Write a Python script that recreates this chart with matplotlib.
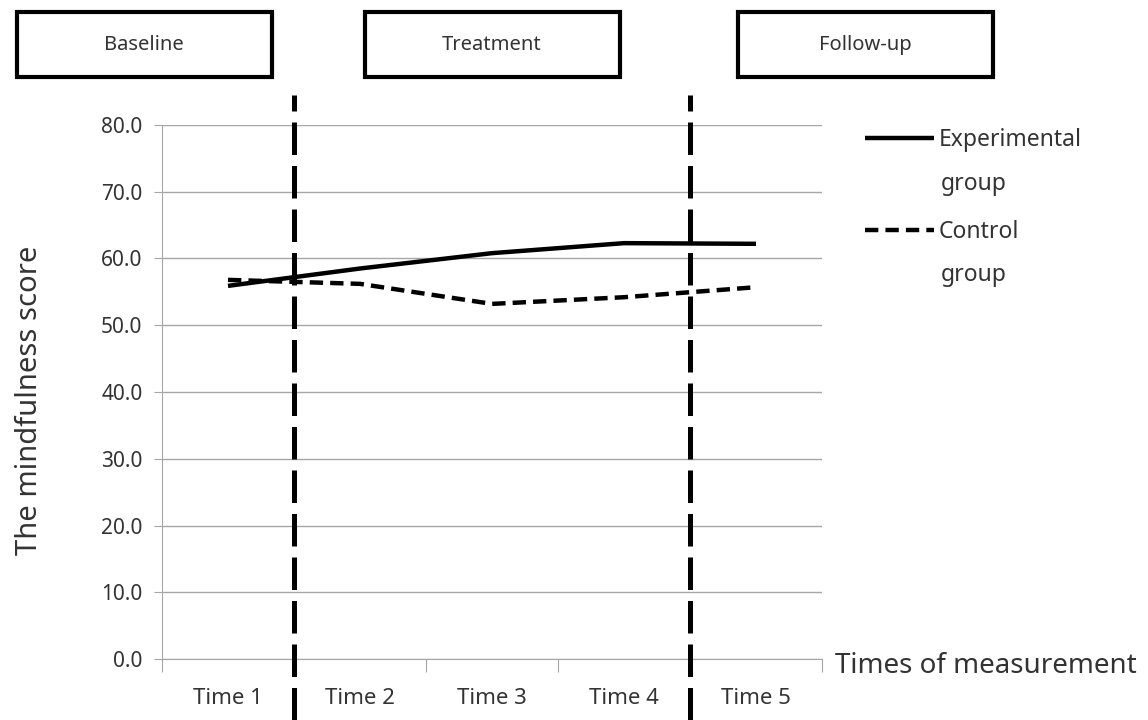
import matplotlib
matplotlib.use("Agg")
from matplotlib import pyplot as plt
from matplotlib.patches import Rectangle

plt.rcParams['font.family'] = ['Noto Sans', 'DejaVu Sans']

# data
times = ['Time 1', 'Time 2', 'Time 3', 'Time 4', 'Time 5']
experimental = [55.9, 58.5, 60.8, 62.3, 62.2]
control = [56.8, 56.2, 53.2, 54.2, 55.7]
phases = ['Baseline', 'Treatment', 'Follow-up']
phase_box_x = [17, 365, 738]   # left edges in pixels
phase_breaks = [1.5, 4.5]      # between categories

W, H = 1148, 720
txt = '#333333'
fig = plt.figure(figsize=(W / 100, H / 100), dpi=100)
ax = fig.add_axes([162 / W, 61 / H, 660 / W, 534 / H])

x = list(range(1, len(times) + 1))
ax.plot(x, experimental, color='black', lw=3.2, solid_capstyle='butt',
        label='Experimental')
ax.plot(x, control, color='black', lw=3.2, dashes=(3, 1.6),
        label='Control')

ax.set_xlim(0.5, 5.5)
ax.set_ylim(0, 80)
ax.set_yticks(range(0, 81, 10))
ax.set_yticklabels([f'{v:.1f}' for v in range(0, 81, 10)], fontsize=15, color=txt)
ax.yaxis.grid(True, color='#a6a6a6', lw=1)
ax.set_axisbelow(True)

# category ticks at boundaries, labels at centers
ax.set_xticks([0.5, 1.5, 2.5, 3.5, 4.5, 5.5])
ax.set_xticklabels([])
ax.set_xticks(x, minor=True)
ax.set_xticklabels(times, minor=True, fontsize=16, color=txt)
ax.tick_params(axis='x', which='major', length=9, color='#a6a6a6', direction='out')
ax.tick_params(axis='x', which='minor', length=0, pad=21)
ax.tick_params(axis='y', length=6, color='#a6a6a6', pad=8)

for s in ['top', 'right']:
    ax.spines[s].set_visible(False)
ax.spines['left'].set_color('#a6a6a6')
ax.spines['bottom'].set_color('#a6a6a6')

ax.set_ylabel('The mindfulness score', fontsize=21, color=txt)
ax.yaxis.set_label_coords((44 - 162) / 660, (659 - 400) / 534)
fig.text(835 / W, 1 - 666 / H, 'Times of measurement', fontsize=20, va='center',
         ha='left', color=txt)

# phase separators
for b in phase_breaks:
    ax.axvline(b, ymin=-0.115, ymax=(659 - 95) / 534, color='black', lw=3.6,
               dashes=(6.5, 2.2), clip_on=False, zorder=5)

# phase boxes
for name, bx in zip(phases, phase_box_x):
    fig.patches.append(Rectangle((bx / W, 1 - 77 / H), 255 / W, 65 / H,
                                 transform=fig.transFigure, fill=False,
                                 lw=3, edgecolor='black'))
    fig.text((bx + 127) / W, 1 - 45 / H, name, fontsize=14.5, ha='center',
             va='center', color=txt)

ax.legend(loc='upper left', bbox_to_anchor=(865 / W, 1 - 128 / H),
          bbox_transform=fig.transFigure, frameon=False, fontsize=16.5,
          handlelength=3.0, handletextpad=0.2, labelspacing=2.95,
          borderaxespad=0, borderpad=0)
for t in ax.get_legend().get_texts():
    t.set_color(txt)
for gy in [184, 275]:
    fig.text(941 / W, 1 - gy / H, 'group', fontsize=16.5, va='center',
             ha='left', color=txt)

fig.savefig('out.png', dpi=100)
